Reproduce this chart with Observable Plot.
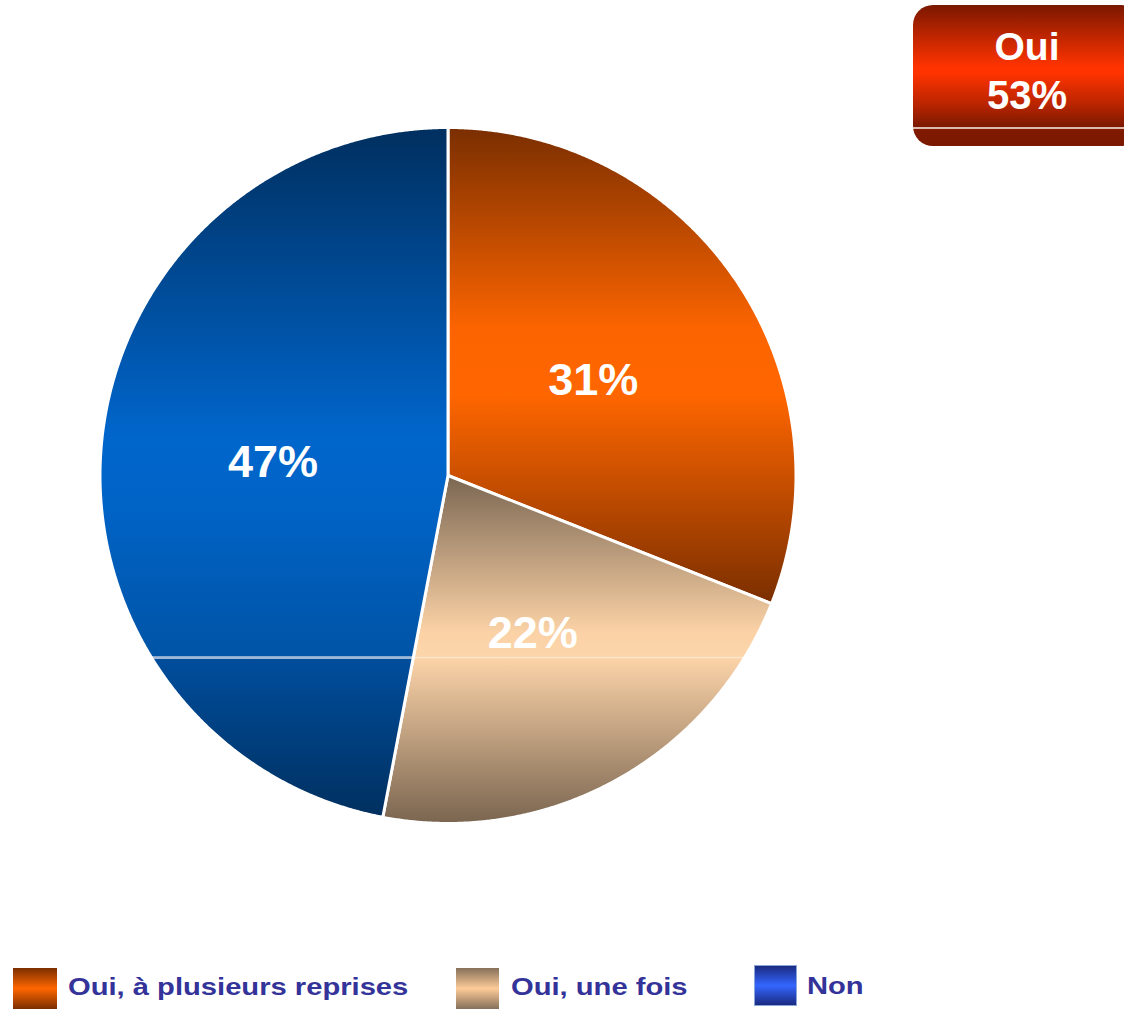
<!DOCTYPE html>
<html>
<head>
<meta charset="utf-8">
<script src="https://cdn.jsdelivr.net/npm/d3@7"></script>
<script src="https://cdn.jsdelivr.net/npm/@observablehq/plot@0.6"></script>
<style>
  html, body { margin: 0; padding: 0; background: #fff; overflow: hidden; }
  #wrap { position: relative; width: 1124px; height: 1010px; overflow: hidden; font-family: "Liberation Sans", Arial, sans-serif; }
  #chart { position: absolute; left: 0; top: 0; }
  #badge { position: absolute; left: 913px; top: 5px; width: 228px; height: 141px; border-radius: 20px;
    background: linear-gradient(to bottom, #7a1800 0px, #b82400 28px, #ff3300 62px, #ff3300 68px, #b82400 100px, #7a1800 122px, #dcb9ae 122px, #dcb9ae 124px, #801a00 124px, #7a1800 141px);
    color: #fff; font-weight: bold; }
  #badge div { position: absolute; left: 0; width: 228px; text-align: center; font-size: 39px; line-height: 39px; }
  #legend { position: absolute; left: 0; top: 0; width: 1124px; height: 1010px; pointer-events: none; }
  .sw { position: absolute; box-sizing: border-box; }
  .lt { position: absolute; font-size: 24.5px; line-height: 25px; font-weight: bold; color: #333399; white-space: nowrap; transform: scaleX(1.19); transform-origin: 0 0; }
</style>
</head>
<body>
<div id="wrap">
  <div id="chart"></div>
  <div id="badge"></div>
  <div id="legend"></div>
</div>
<script>
// ---- data ----
const categories = ["Oui, à plusieurs reprises", "Oui, une fois", "Non"];
const values = [31, 22, 47];
const valueLabels = ["31%", "22%", "47%"];
const summaryTitle = "Oui";
const summaryValue = "53%";

// ---- styles ----
const sliceGradients = [
  [[0, "#7a2e00"], [0.42, "#fb6400"], [0.56, "#ff6600"], [1, "#7a2e00"]],
  [[0, "#7a6652"], [0.45, "#fbd2a6"], [0.52, "#fcd5aa"], [0.521, "#fde8d2"], [0.525, "#fde8d2"], [0.526, "#fbd3a8"], [1, "#7a6550"]],
  [[0, "#002f5f"], [0.45, "#0066cc"], [0.55, "#0063c6"], [0.766, "#0054a6"], [0.767, "#9fb8d6"], [0.77, "#9fb8d6"], [0.771, "#004d9c"], [1, "#00305f"]]
];
const swatchGradients = [
  "linear-gradient(to bottom, #7a2e00, #ff6600 50%, #7a2e00)",
  "linear-gradient(to bottom, #86705a, #fdcb98 50%, #86705a)",
  "linear-gradient(to bottom, #1a2a80, #3366ff 50%, #1a2a80)"
];

const pie = d3.pie().sort(null).value(d => d)(values);

// polygons (data units, unit radius)
const slices = pie.map((p, i) => {
  const pts = [{x: 0, y: 0}];
  const n = Math.max(2, Math.ceil((p.endAngle - p.startAngle) / (Math.PI / 720)));
  for (let k = 0; k <= n; k++) {
    const a = p.startAngle + (p.endAngle - p.startAngle) * k / n;
    pts.push({x: Math.sin(a), y: Math.cos(a)});
  }
  pts.push({x: 0, y: 0});
  return pts;
});

const labelData = pie.map((p, i) => {
  const a = (p.startAngle + p.endAngle) / 2;
  return {x: 0.505 * Math.sin(a), y: 0.505 * Math.cos(a), label: valueLabels[i]};
});

const svgNS = "http://www.w3.org/2000/svg";
function defsMark() {
  const defs = document.createElementNS(svgNS, "defs");
  sliceGradients.forEach((stops, i) => {
    const g = document.createElementNS(svgNS, "linearGradient");
    g.setAttribute("id", "slice-grad-" + i);
    g.setAttribute("x1", "0"); g.setAttribute("y1", "0");
    g.setAttribute("x2", "0"); g.setAttribute("y2", "1");
    stops.forEach(([o, c]) => {
      const s = document.createElementNS(svgNS, "stop");
      s.setAttribute("offset", o);
      s.setAttribute("stop-color", c);
      g.appendChild(s);
    });
    defs.appendChild(g);
  });
  return defs;
}

const cx = 447.5, r = 348, cy = 475;
const plot = Plot.plot({
  width: 1124,
  height: 955,
  margin: 0,
  x: {domain: [-1, 1], range: [cx - r, cx + r], axis: null},
  y: {domain: [-1, 1], range: [cy + r, cy - r], axis: null},
  style: {background: "transparent"},
  marks: [
    defsMark,
    ...slices.map((pts, i) => Plot.line(pts, {
      x: "x", y: "y",
      fill: `url(#slice-grad-${i})`,
      stroke: "white", strokeWidth: 3, strokeLinejoin: "round", curve: "linear"
    })),
    Plot.text(labelData, {
      x: "x", y: "y", text: "label", dy: 4,
      fill: "white", fontSize: 45, fontWeight: "bold",
      fontFamily: "Liberation Sans, Arial, sans-serif"
    })
  ]
});
document.getElementById("chart").appendChild(plot);

// badge
const badge = document.getElementById("badge");
[[summaryTitle, 22, 39], [summaryValue, 71, 40]].forEach(([t, top, fs]) => {
  const d = document.createElement("div");
  d.textContent = t;
  d.style.top = top + "px";
  d.style.fontSize = fs + "px";
  badge.appendChild(d);
});

// legend
const legendLayout = [
  {sx: 13, sy: 968, sw: 44, sh: 41, tx: 68, ty: 974, border: "none"},
  {sx: 456, sy: 968, sw: 43, sh: 41, tx: 511, ty: 974, border: "none"},
  {sx: 754, sy: 965, sw: 43, sh: 41, tx: 807, ty: 973, border: "1px solid #8aa6d8"}
];
const legend = document.getElementById("legend");
categories.forEach((c, i) => {
  const L = legendLayout[i];
  const s = document.createElement("div");
  s.className = "sw";
  Object.assign(s.style, {left: L.sx + "px", top: L.sy + "px", width: L.sw + "px", height: L.sh + "px", background: swatchGradients[i], border: L.border});
  legend.appendChild(s);
  const t = document.createElement("div");
  t.className = "lt";
  t.textContent = c;
  Object.assign(t.style, {left: L.tx + "px", top: L.ty + "px"});
  legend.appendChild(t);
});
</script>
</body>
</html>
